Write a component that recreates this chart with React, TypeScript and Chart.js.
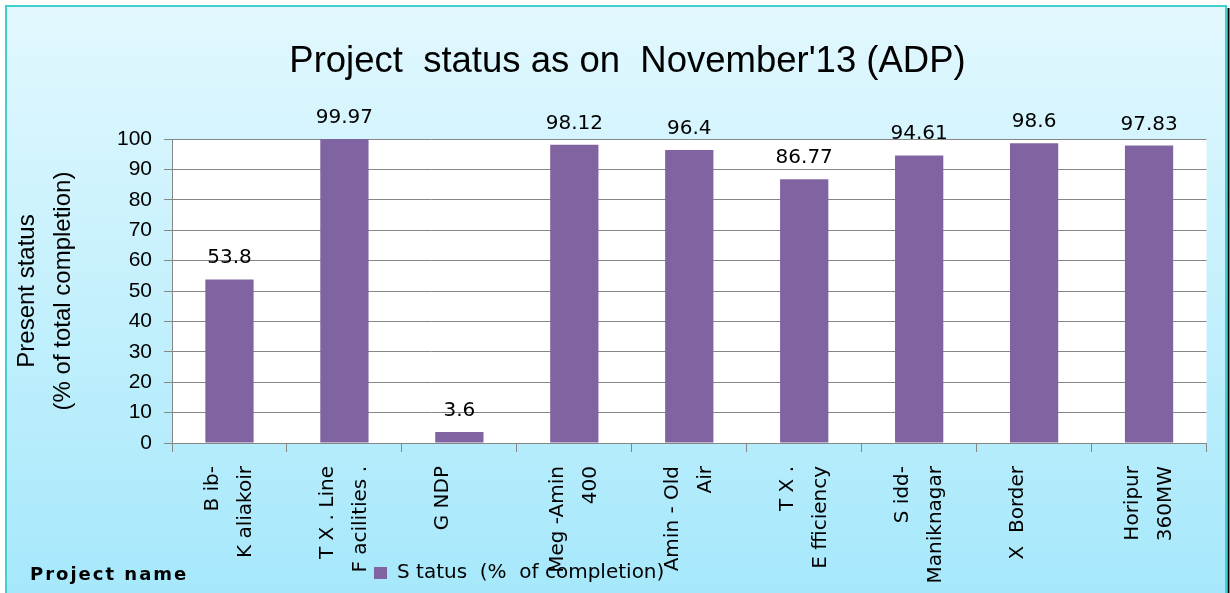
import React, { useEffect, useRef } from 'react';
import { Chart, registerables } from 'chart.js';

Chart.register(...registerables);

const categories: string[][] = [
  ['B ib-', 'K aliakoir'],
  ['T X . Line', 'F acilities .'],
  ['G NDP'],
  ['Meg -Amin', '400'],
  ['Amin - Old', 'Air'],
  ['T X .', 'E fficiency'],
  ['S idd-', 'Maniknagar'],
  ['X  Border'],
  ['Horipur', '360MW'],
];
const statusValues: number[] = [53.8, 99.97, 3.6, 98.12, 96.4, 86.77, 94.61, 98.6, 97.83];
const yTickValues: number[] = [0, 10, 20, 30, 40, 50, 60, 70, 80, 90, 100];
const chartTitle = "Project  status as on  November'13 (ADP)";
const yAxisTitle: string[] = ['Present status', '(% of total completion)'];
const xAxisTitle = 'Project name';
const seriesLabel = 'S tatus  (%  of completion)';

const GRID = '#868686';
const BAR = '#8064a2';

const decorPlugin = {
  id: 'decor',
  beforeDraw(chart: any) {
    const { ctx, width, height, chartArea } = chart;
    ctx.save();
    ctx.fillStyle = '#ffffff';
    ctx.fillRect(0, 0, width, height);
    const g = ctx.createLinearGradient(0, 7, 0, height);
    g.addColorStop(0, '#e2f8fe');
    g.addColorStop(1, '#a6e8fb');
    ctx.fillStyle = g;
    ctx.fillRect(7, 7, 1219, height - 7);
    ctx.strokeStyle = '#3ecfcf';
    ctx.lineWidth = 2;
    ctx.beginPath();
    ctx.moveTo(6, height + 2);
    ctx.lineTo(6, 6);
    ctx.lineTo(1226, 6);
    ctx.lineTo(1226, height + 2);
    ctx.stroke();
    ctx.fillStyle = '#000000';
    ctx.fillRect(1227.5, 8, 2, height);
    ctx.fillStyle = '#ffffff';
    ctx.fillRect(chartArea.left, chartArea.top, chartArea.right - chartArea.left, chartArea.bottom - chartArea.top);
    ctx.restore();
  },
  afterLayout(chart: any) {
    const lg = chart.legend;
    if (lg) {
      const w = lg.right - lg.left;
      lg.left = 372;
      lg.right = 372 + Math.max(w, 320);
      lg.top = 561;
      lg.bottom = 593;
    }
    const tb = chart.titleBlock;
    if (tb) {
      tb.left += 21;
      tb.right += 21;
    }
  },
  afterDatasetsDraw(chart: any) {
    const { ctx } = chart;
    const meta = chart.getDatasetMeta(0);
    const data = chart.data.datasets[0].data as number[];
    ctx.save();
    ctx.font = '20px "DejaVu Sans"';
    ctx.fillStyle = '#000000';
    ctx.textAlign = 'center';
    ctx.textBaseline = 'alphabetic';
    meta.data.forEach((el: any, i: number) => {
      ctx.fillText(String(data[i]), el.x, el.y - 16);
    });
    ctx.restore();
  },
  afterDraw(chart: any) {
    const { ctx } = chart;
    ctx.save();
    ctx.font = 'bold 18px "DejaVu Sans"';
    try { (ctx as any).letterSpacing = '2px'; } catch (e) {}
    ctx.fillStyle = '#000000';
    ctx.textAlign = 'left';
    ctx.textBaseline = 'middle';
    ctx.fillText(xAxisTitle, 30, 575);
    ctx.restore();
  },
};

export default function App() {
  const ref = useRef<HTMLCanvasElement | null>(null);
  useEffect(() => {
    if (!ref.current) return;
    const chart = new Chart(ref.current, {
      type: 'bar',
      data: {
        labels: categories,
        datasets: [
          {
            label: seriesLabel,
            data: statusValues,
            backgroundColor: BAR,
            borderWidth: 0,
            barPercentage: 0.42,
            categoryPercentage: 1.0,
          },
        ],
      },
      options: {
        responsive: false,
        animation: false,
        layout: { padding: { left: 0, right: 17, top: 20, bottom: 0 } },
        plugins: {
          title: {
            display: true,
            text: chartTitle,
            color: '#000000',
            font: { family: '"Liberation Sans", Arial, sans-serif', size: 36.5, weight: 'normal' },
            padding: { top: 20, bottom: 55.2 },
          },
          legend: {
            display: true,
            position: 'chartArea',
            align: 'start',
            labels: {
              boxWidth: 13,
              boxHeight: 12,
              padding: 2,
              color: '#000000',
              font: { family: '"DejaVu Sans"', size: 20 },
            },
          },
          tooltip: { enabled: false },
        },
        scales: {
          x: {
            offset: true,
            grid: { offset: true, drawOnChartArea: false, drawTicks: true, tickLength: 9, color: GRID },
            border: { color: GRID, width: 1 },
            ticks: {
              autoSkip: false,
              maxRotation: 90,
              minRotation: 90,
              padding: 14,
              labelOffset: -16.5,
              color: '#000000',
              font: { family: '"DejaVu Sans"', size: 20, lineHeight: 1.65 },
            },
            afterFit(scale: any) {
              scale.height = 150;
            },
          },
          y: {
            min: 0,
            max: 100,
            afterBuildTicks(scale: any) {
              scale.ticks = yTickValues.map((v) => ({ value: v }));
            },
            grid: { color: GRID, drawTicks: true, tickLength: 8 },
            border: { color: GRID, width: 1 },
            ticks: {
              padding: 12,
              color: '#000000',
              font: { family: '"Liberation Sans", Arial, sans-serif', size: 21 },
            },
            title: {
              display: true,
              text: yAxisTitle,
              color: '#000000',
              font: { family: '"Liberation Sans", Arial, sans-serif', size: 24, lineHeight: 1.5 },
              padding: { top: 9, bottom: 0 },
            },
            afterFit(scale: any) {
              scale.width = 172;
            },
          },
        },
      } as any,
      plugins: [decorPlugin],
    });
    return () => chart.destroy();
  }, []);
  return (
    <div style={{ position: 'absolute', left: 0, top: 0, width: 1230, height: 593 }}>
      <canvas ref={ref} width={1230} height={593} style={{ display: 'block' }} />
    </div>
  );
}
